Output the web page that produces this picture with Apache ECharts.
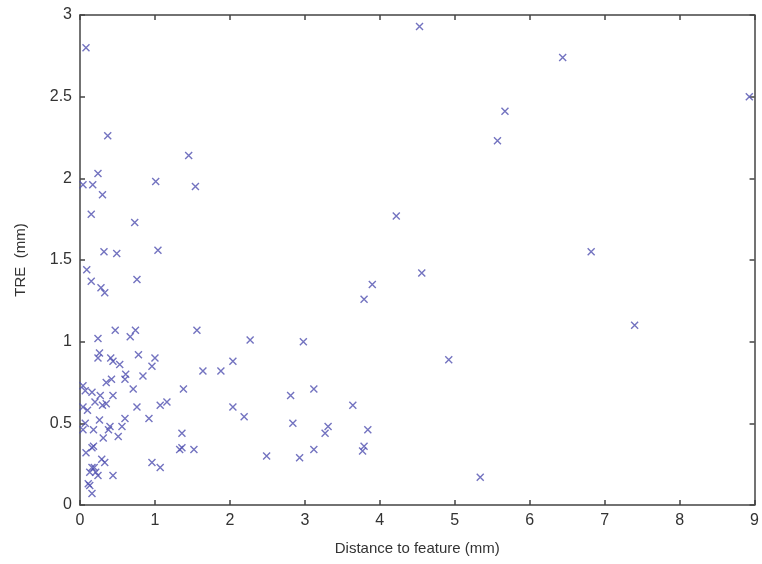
<!DOCTYPE html>
<html>
<head>
<meta charset="utf-8">
<script src="https://cdn.jsdelivr.net/npm/echarts@6/dist/echarts.min.js"></script>
<style>html,body{margin:0;padding:0;background:#fff}#c{width:762px;height:564px}</style>
</head>
<body>
<div id="c"></div>
<script>
var distance = [0.08,0.37,0.24,1.45,0.04,0.17,0.30,1.01,1.54,0.15,0.73,0.32,0.49,1.04,0.09,0.15,0.28,0.33,0.76,0.47,0.74,0.24,0.67,1.56,2.27,
0.26,0.24,0.41,0.44,0.53,0.78,1.00,0.96,2.04,1.64,1.88,0.61,0.60,0.84,0.35,0.42,0.71,1.38,0.04,0.07,0.16,0.27,0.44,0.20,0.35,0.30,0.04,0.10,0.76,1.07,1.16,2.04,2.19,0.92,0.26,0.60,0.56,0.40,0.38,0.07,0.04,0.18,0.31,0.51,1.36,0.18,0.16,1.33,1.52,1.36,0.08,2.49,0.29,0.33,0.96,1.07,0.16,0.19,0.13,0.21,0.24,0.44,0.11,0.13,0.16,
4.53,5.67,5.57,4.22,4.56,3.90,3.79,2.98,4.92,3.12,2.81,3.64,2.84,3.31,3.27,3.84,3.79,3.77,3.12,2.93,5.34,6.44,8.93,6.82,7.40];
var tre = [2.80,2.26,2.03,2.14,1.96,1.96,1.90,1.98,1.95,1.78,1.73,1.55,1.54,1.56,1.44,1.37,1.33,1.30,1.38,1.07,1.07,1.02,1.03,1.07,1.01,
0.93,0.90,0.90,0.88,0.86,0.92,0.90,0.85,0.88,0.82,0.82,0.80,0.77,0.79,0.75,0.77,0.71,0.71,0.73,0.70,0.69,0.67,0.67,0.63,0.62,0.61,0.60,0.58,0.60,0.61,0.63,0.60,0.54,0.53,0.52,0.53,0.48,0.48,0.46,0.50,0.46,0.46,0.41,0.42,0.44,0.36,0.35,0.34,0.34,0.35,0.32,0.30,0.28,0.26,0.26,0.23,0.23,0.23,0.20,0.20,0.18,0.18,0.13,0.12,0.07,
2.93,2.41,2.23,1.77,1.42,1.35,1.26,1.00,0.89,0.71,0.67,0.61,0.50,0.48,0.44,0.46,0.36,0.33,0.34,0.29,0.17,2.74,2.50,1.55,1.10];
var xTicks = [0,1,2,3,4,5,6,7,8,9];
var yTicks = [0,0.5,1,1.5,2,2.5,3];

var points = distance.map(function(d,i){return [d, tre[i]];});
var chart = echarts.init(document.getElementById('c'));
var axisCommon = {
  axisLine:{show:true,onZero:false,lineStyle:{color:'#444',width:1.5}},
  axisTick:{show:true,inside:true,length:5,lineStyle:{color:'#444',width:1.5}},
  splitLine:{show:false}
};
var lbl = {color:'#333',fontSize:16,fontFamily:'Liberation Sans, Arial, sans-serif'};
chart.setOption({
  animation:false,
  backgroundColor:'#fff',
  grid:{left:80,right:7,top:15,bottom:59,containLabel:false},
  xAxis:[
    Object.assign({type:'value',min:0,max:9,interval:1,position:'bottom',
      name:'Distance to feature (mm)',nameLocation:'middle',nameGap:36,
      nameTextStyle:{color:'#333',fontSize:15,fontFamily:'Liberation Sans, Arial, sans-serif'},
      axisLabel:Object.assign({margin:8,formatter:function(v){return xTicks.indexOf(v)>=0?String(v):'';}},lbl)},axisCommon),
    Object.assign({type:'value',min:0,max:9,interval:1,position:'top',axisLabel:{show:false}},axisCommon)
  ],
  yAxis:[
    Object.assign({type:'value',min:0,max:3,interval:0.5,position:'left',
      name:'TRE  (mm)',nameLocation:'middle',nameGap:52,nameRotate:90,
      nameTextStyle:{color:'#333',fontSize:15,fontFamily:'Liberation Sans, Arial, sans-serif'},
      axisLabel:Object.assign({margin:8,formatter:function(v){return yTicks.indexOf(v)>=0?String(v):'';}},lbl)},axisCommon),
    Object.assign({type:'value',min:0,max:3,interval:0.5,position:'right',axisLabel:{show:false}},axisCommon)
  ],
  series:[{
    type:'scatter',
    data:points,
    symbol:'path://M0,0L10,10M10,0L0,10',
    symbolSize:7,
    itemStyle:{color:'rgba(0,0,0,0)',borderColor:'#5050b0',borderWidth:1.4},
    clip:false
  }]
});
</script>
</body>
</html>
